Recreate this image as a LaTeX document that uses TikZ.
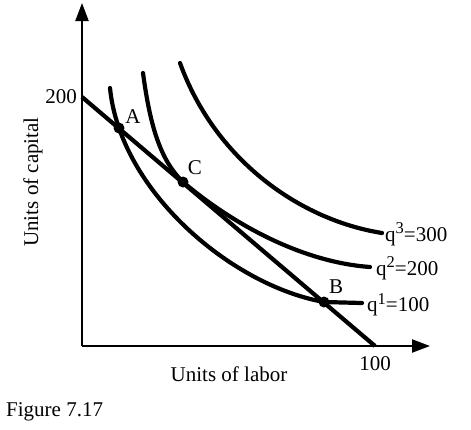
\documentclass[tikz,border=0pt]{standalone}
\usepackage{fontspec}
\setmainfont{Liberation Serif}
\usetikzlibrary{arrows.meta}
\newcommand{\supnum}[1]{\raisebox{0.36em}{\fontsize{16.5}{16.5}\selectfont #1}}
\begin{document}
\begin{tikzpicture}[x=1pt,y=-1pt,
  axis/.style={line width=2.2pt,-{Triangle[length=18pt,width=13pt]}},
  curve/.style={line width=4.2pt,line cap=round},
  budget/.style={line width=4.2pt},
  dot/.style={circle,fill=black,inner sep=0pt,minimum size=11pt},
  lbl/.style={font=\fontsize{21}{24}\selectfont,inner sep=0pt}]
\useasboundingbox (0,0) rectangle (471,429);
\fill[white] (0,0) rectangle (471,429);
% axes
\coordinate (O) at (82,346);
\coordinate (ytip) at (82,3);
\coordinate (xtip) at (430,346);
\draw[axis] (O) -- (ytip);
\draw[axis] (O) -- (xtip);
% isoquants
\draw[curve] (110,88) .. controls (120,190) and (230,285) .. (324,302) -- (362,303);
\draw[curve] (143,73) .. controls (150,125) and (160,160) .. (183,182)
             .. controls (230,222) and (300,262) .. (370,267);
\draw[curve] (180,63) .. controls (215,160) and (300,220) .. (382,233);
% isocost line
\coordinate (c200) at (82,97);
\coordinate (c100) at (375,346);
\draw[budget] (c200) -- (c100);
% points
\node[dot] (A) at (119,128) {};
\node[dot] (C) at (183,182) {};
\node[dot] (B) at (324,302) {};
\node[lbl] (lA) at (133,117) {A};
\node[lbl] (lC) at (195,168) {C};
\node[lbl] (lB) at (336,287) {B};
% labels
\node[lbl,anchor=east] (l200) at (77,97) {200};
\node[lbl] (l100) at (375,364) {100};
\node[lbl,anchor=west] (q3) at (385,234) {q\supnum{3}=300};
\node[lbl,anchor=west] (q2) at (376,268) {q\supnum{2}=200};
\node[lbl,anchor=west] (q1) at (367,305) {q\supnum{1}=100};
\node[lbl] (xl) at (229,374) {Units of labor};
\node[lbl,rotate=90] (yl) at (33,182) {Units of capital};
\node[lbl,anchor=west] (fig) at (6,412) {Figure 7.17};
\end{tikzpicture}
\end{document}
